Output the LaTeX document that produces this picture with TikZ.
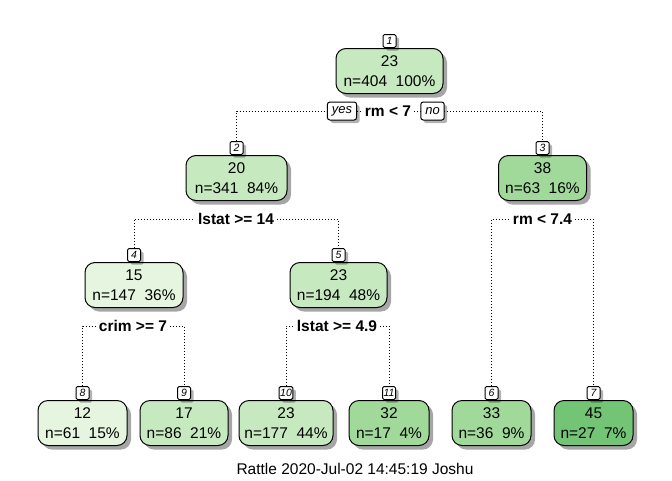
\documentclass[tikz,border=0pt]{standalone}
\usepackage{fontspec}
\setmainfont{Liberation Sans}
\usepackage{tikz}
\usetikzlibrary{shapes,backgrounds,shadows}
\usetikzlibrary{positioning}
\definecolor{grA}{HTML}{E5F5E0}
\definecolor{grB}{HTML}{C7E9C0}
\definecolor{grC}{HTML}{A1D99B}
\definecolor{grD}{HTML}{74C476}
\tikzset{
  boxbase/.style={ draw, line width=1pt, rounded corners=10pt, align=center, minimum height=45pt, inner xsep=4pt, font=\fontsize{15.5}{19.5}\selectfont, drop shadow={shadow xshift=4pt, shadow yshift=-4pt, fill=black, opacity=0.35} }
}
\tikzset{
  boxA/.style={ boxbase, fill=grA }
}
\tikzset{
  boxB/.style={ boxbase, fill=grB }
}
\tikzset{
  boxC/.style={ boxbase, fill=grC }
}
\tikzset{
  boxD/.style={ boxbase, fill=grD }
}
\tikzset{
  tagsq/.style={ draw, fill=white, line width=1pt, rounded corners=1.5pt, minimum width=13pt, minimum height=13pt, inner sep=1pt, font=\fontsize{10.5}{12}\selectfont\itshape, drop shadow={shadow xshift=3pt, shadow yshift=-3pt, fill=black, opacity=0.3} }
}
\tikzset{
  yesno/.style={ draw, fill=white, line width=1pt, rounded corners=2.5pt, minimum height=18pt, inner xsep=4.5pt, inner ysep=1pt, font=\fontsize{13}{14}\selectfont\itshape, drop shadow={shadow xshift=3pt, shadow yshift=-3pt, fill=black, opacity=0.3} }
}
\tikzset{
  splitlbl/.style={ fill=white, inner xsep=3pt, inner ysep=1pt, font=\fontsize{15.5}{17}\selectfont\bfseries }
}
\tikzset{
  dotline/.style={ line width=1pt, dash pattern=on 1pt off 2pt }
}

\begin{document}
\begin{tikzpicture}[x=1pt, y=-1pt]
      \useasboundingbox (0,0) rectangle (672,480);

      \node[boxB, minimum width=107] (n1) at (389.5, 71) {23\\n=404\ \ 100\%};
      \node[tagsq, above=0pt of n1] (t1) {1};

      \node[boxB, minimum width=101] (n2) at (236.5, 178) {20\\n=341\ \ 84\%};
      \node[tagsq, above=0pt of n2] (t2) {2};
      \node[boxC, minimum width=88] (n3) at (542.5, 178) {38\\n=63\ \ 16\%};
      \node[tagsq, above=0pt of n3] (t3) {3};

      \node[boxA, minimum width=98] (n4) at (134, 285) {15\\n=147\ \ 36\%};
      \node[tagsq, above=0pt of n4] (t4) {4};
      \node[boxB, minimum width=97] (n5) at (338.5, 285) {23\\n=194\ \ 48\%};
      \node[tagsq, above=0pt of n5] (t5) {5};

      \node[boxA, minimum width=89] (n8) at (82.5, 423) {12\\n=61\ \ 15\%};
      \node[tagsq, above=0pt of n8] (t8) {8};
      \node[boxB, minimum width=88] (n9) at (184, 423) {17\\n=86\ \ 21\%};
      \node[tagsq, above=0pt of n9] (t9) {9};
      \node[boxB, minimum width=94] (n10) at (286, 423) {23\\n=177\ \ 44\%};
      \node[tagsq, above=0pt of n10] (t10) {10};
      \node[boxC, minimum width=80] (n11) at (389, 423) {32\\n=17\ \ 4\%};
      \node[tagsq, above=0pt of n11] (t11) {11};
      \node[boxC, minimum width=79] (n6) at (491.5, 423) {33\\n=36\ \ 9\%};
      \node[tagsq, above=0pt of n6] (t6) {6};
      \node[boxD, minimum width=79] (n7) at (593.5, 423) {45\\n=27\ \ 7\%};
      \node[tagsq, above=0pt of n7] (t7) {7};

      \node[splitlbl] (s1) at (388, 111) {rm < 7};
      \node[yesno] (yes1) at (342, 111) {yes};
      \node[yesno] (no1) at (432.5, 111) {no};
      \node[splitlbl] (s2) at (236, 219) {lstat >= 14};
      \node[splitlbl] (s3) at (542.5, 219) {rm < 7.4};
      \node[splitlbl] (s4) at (133, 326) {crim >= 7};
      \node[splitlbl] (s5) at (337, 326) {lstat >= 4.9};

      \begin{scope}[on background layer]
        \draw[dotline] (t2.north) |- (s1) -| (t3.north);
        \draw[dotline] (t4.north) |- (s2) -| (t5.north);
        \draw[dotline] (t6.north) |- (s3) -| (t7.north);
        \draw[dotline] (t8.north) |- (s4) -| (t9.north);
        \draw[dotline] (t10.north) |- (s5) -| (t11.north);
      \end{scope}

      \node[font=\fontsize{15.5}{17}\selectfont] (stamp) at (355, 469) {Rattle 2020-Jul-02 14:45:19 Joshu};
    \end{tikzpicture}
\end{document}
